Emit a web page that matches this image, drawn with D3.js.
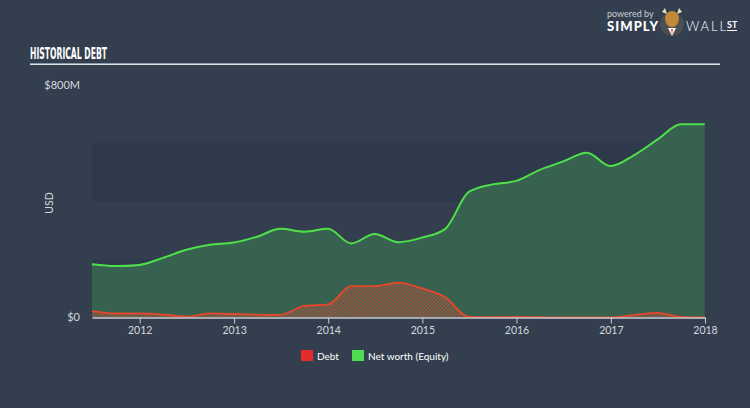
<!DOCTYPE html>
<html><head><meta charset="utf-8">
<script src="https://cdn.jsdelivr.net/npm/d3@7"></script>
<style>
html,body{margin:0;padding:0;background:#333f4f;}
svg{display:block;}
text{font-family:Lato,"Open Sans",sans-serif;}
</style></head>
<body><svg id="c" width="750" height="408"></svg>
<script>
const dates = ["2011-06-30","2011-09-30","2011-12-31","2012-03-31","2012-06-30","2012-09-30","2012-12-31",
"2013-03-31","2013-06-30","2013-09-30","2013-12-31","2014-03-31","2014-06-30","2014-09-30","2014-12-31",
"2015-03-31","2015-06-30","2015-09-30","2015-12-31","2016-03-31","2016-06-30","2016-09-30","2016-12-31",
"2017-03-31","2017-06-30","2017-09-30","2017-12-31"];
const equity = [183,177,181,205,233,250,258,278,305,295,305,255,287,259,275,305,432,458,470,508,537,567,521,558,612,665,665];
const debt = [22,14,14,10,3,14,12,10,9,40,45,108,108,120,100,70,2,1,2,1,0,0,0,8,16,2,0];
const yearTicks = ["2012","2013","2014","2015","2016","2017","2018"];
const yTicks = [0,800];
const yTickLabels = ["$0","$800M"];
const bands = [[0,200],[400,600]];
const seriesNames = ["Debt","Net worth (Equity)"];
const seriesColors = ["#e52b2b","#4fdc4f"];

const parse = d3.timeParse("%Y-%m-%d");
const data = dates.map((d,i)=>({date:parse(d), eq:equity[i], debt:debt[i]}));

const svg = d3.select("#c");
const x = d3.scaleTime().domain([parse("2011-06-30"), parse("2018-01-01")]).range([92,705]);
const y = d3.scaleLinear().domain([0,800]).range([317.5,85]);

// title
svg.append("text").attr("x",30).attr("y",59).attr("fill","#ffffff")
  .style("font-family","'Liberation Sans Narrow','DejaVu Sans Condensed',sans-serif")
  .style("font-weight","bold").style("font-size","16px")
  .attr("textLength",77).attr("lengthAdjust","spacingAndGlyphs").text("HISTORICAL DEBT");
svg.append("rect").attr("x",30).attr("y",63).attr("width",690).attr("height",1).attr("fill","#8e9aaa");
svg.append("rect").attr("x",30).attr("y",64).attr("width",690).attr("height",1).attr("fill","#dfe3e8");

// logo
const logo = svg.append("g");
logo.append("text").attr("x",607).attr("y",17).attr("fill","#c9ced4").style("font-size","9px").text("powered by");
logo.append("text").attr("x",607).attr("y",31).attr("fill","#ffffff").style("font-size","13px").style("font-weight","900").attr("textLength",51).text("SIMPLY");
logo.append("circle").attr("cx",672).attr("cy",24).attr("r",12).attr("fill","#4a4e55");
logo.append("ellipse").attr("cx",672).attr("cy",19).attr("rx",7).attr("ry",8).attr("fill","#c08a3a");
logo.append("path").attr("d","M662,12 L665,8 L667,14 Z M682,12 L679,8 L677,14 Z").attr("fill","#e8d9b8");
logo.append("path").attr("d","M668,28 L672,36 L676,28 Z").attr("fill","#ffffff");
logo.append("path").attr("d","M671,29 L672,35 L673,29 Z").attr("fill","#e8452b");
logo.append("text").attr("x",686).attr("y",31).attr("fill","#ffffff").style("font-size","13px").style("font-weight","300").attr("textLength",40).text("WALL");
logo.append("text").attr("x",727).attr("y",28).attr("fill","#ffffff").style("font-size","9px").style("font-weight","bold").text("ST");
logo.append("rect").attr("x",727).attr("y",30).attr("width",10).attr("height",1).attr("fill","#ffffff");

// bands
svg.selectAll("rect.band").data(bands).enter().append("rect").attr("class","band")
  .attr("x",x.range()[0]).attr("width",x.range()[1]-x.range()[0])
  .attr("y",d=>y(d[1])).attr("height",d=>y(d[0])-y(d[1])).attr("fill","#2e3a4b");

// hatch pattern
const defs = svg.append("defs");
const pat = defs.append("pattern").attr("id","hatch").attr("patternUnits","userSpaceOnUse")
  .attr("width",2.5).attr("height",2.5).attr("patternTransform","rotate(45)");
pat.append("rect").attr("width",2.5).attr("height",2.5).attr("fill","#42624f");
pat.append("rect").attr("width",1.1).attr("height",2.5).attr("fill","#b4533c");

const curve = d3.curveMonotoneX;
const areaEq = d3.area().x(d=>x(d.date)).y0(y(0)).y1(d=>y(d.eq)).curve(curve);
const lineEq = d3.line().x(d=>x(d.date)).y(d=>y(d.eq)).curve(curve);
const areaDebt = d3.area().x(d=>x(d.date)).y0(y(0)).y1(d=>y(d.debt)).curve(curve);
const lineDebt = d3.line().x(d=>x(d.date)).y(d=>y(d.debt)).curve(curve);

svg.append("path").datum(data).attr("d",areaEq).attr("fill","#36624f");
svg.append("path").datum(data).attr("d",lineEq).attr("fill","none").attr("stroke","#4fe04a").attr("stroke-width",2);
svg.append("path").datum(data).attr("d",areaDebt).attr("fill","url(#hatch)");
svg.append("path").datum(data).attr("d",lineDebt).attr("fill","none").attr("stroke","#e8472c").attr("stroke-width",1.8);

// x axis
const xa = svg.append("g").attr("transform",`translate(0,${y(0)})`)
  .call(d3.axisBottom(x).tickValues(yearTicks.map(t=>parse(t+"-01-01"))).tickFormat(d3.timeFormat("%Y")).tickSize(6).tickSizeOuter(0));
xa.select(".domain").attr("stroke","#c8cdd4").attr("stroke-width",1.5);
xa.selectAll(".tick line").attr("stroke","#c8cdd4");
xa.selectAll(".tick text").attr("fill","#d3d7dc").style("font-size","10.5px").attr("y",9);

// y labels
svg.selectAll("text.yl").data(yTicks).enter().append("text").attr("class","yl")
  .attr("x",80).attr("y",d=>y(d)).attr("dy","0.35em").attr("text-anchor","end")
  .attr("fill","#d3d7dc").style("font-size","11px").text((d,i)=>yTickLabels[i]);
svg.append("text").attr("transform","translate(53,203) rotate(-90)").attr("text-anchor","middle")
  .attr("fill","#d3d7dc").style("font-size","10.5px").text("USD");

// legend
const lg = svg.append("g");
const lx = [301,352];
seriesNames.forEach((n,i)=>{
  lg.append("rect").attr("x",lx[i]).attr("y",350).attr("width",12).attr("height",11).attr("fill",seriesColors[i]);
  lg.append("text").attr("x",lx[i]+16).attr("y",356).attr("dy","0.35em").attr("fill","#ffffff").style("font-size","10px").text(n);
});
</script></body></html>
